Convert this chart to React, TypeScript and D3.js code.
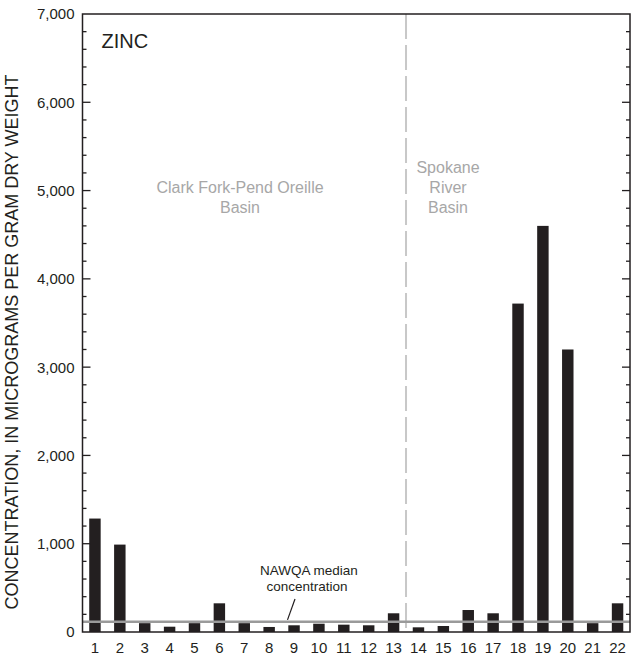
import React, { useEffect, useRef } from 'react';
import * as d3 from 'd3';

// Site numbers along the x axis
const sites: string[] = Array.from({ length: 22 }, (_, i) => String(i + 1));

// Zinc concentration, micrograms per gram dry weight
const zincValues: number[] = [
  1285, 990, 100, 60, 100, 325, 100, 57, 76, 94, 83,
  76, 212, 53, 68, 249, 212, 3720, 4600, 3200, 100, 325,
];

const yTicksMajor: number[] = [0, 1000, 2000, 3000, 4000, 5000, 6000, 7000];
const nawqaMedian = 115;

const basinLabels = [
  { lines: ['Clark Fork-Pend Oreille', 'Basin'], first: 0, last: 12 },
  { lines: ['Spokane', 'River', 'Basin'], first: 13, last: 21 },
];

const W = 637;
const H = 659;
const margin = { top: 14, right: 7, bottom: 27, left: 82.5 };
const FONT = '"Liberation Sans", Arial, Helvetica, sans-serif';
const INK = '#231f20';

const ZincChart: React.FC = () => {
  const svgRef = useRef<SVGSVGElement>(null);

  useEffect(() => {
    if (!svgRef.current) return;
    const svg = d3.select(svgRef.current);
    svg.selectAll('*').remove();

    const x0 = margin.left;
    const x1 = W - margin.right;
    const y0 = H - margin.bottom;
    const y1 = margin.top;

    const x = d3.scaleBand<string>().domain(sites).range([x0, x1]).padding(0);
    const y = d3.scaleLinear().domain([0, 7000]).range([y0, y1]);
    const barW = x.bandwidth() * 0.46;

    const g = svg.append('g').attr('font-family', FONT);

    // bars
    g.selectAll('rect.bar')
      .data(zincValues)
      .enter()
      .append('rect')
      .attr('class', 'bar')
      .attr('x', (_, i) => (x(sites[i]) as number) + x.bandwidth() / 2 - barW / 2)
      .attr('y', d => y(d))
      .attr('width', barW)
      .attr('height', d => y0 - y(d))
      .attr('fill', INK);

    // basin divider
    const divX = x(sites[13]) as number;
    g.append('line')
      .attr('x1', divX).attr('x2', divX)
      .attr('y1', y1).attr('y2', y0)
      .attr('stroke', '#c8c8c8')
      .attr('stroke-width', 2)
      .attr('stroke-dasharray', '25,6');

    // NAWQA median line
    g.append('line')
      .attr('x1', x0).attr('x2', x1)
      .attr('y1', y(nawqaMedian)).attr('y2', y(nawqaMedian))
      .attr('stroke', '#9a9a9a')
      .attr('stroke-width', 2.5);

    // frame
    g.append('rect')
      .attr('x', x0).attr('y', y1)
      .attr('width', x1 - x0).attr('height', y0 - y1)
      .attr('fill', 'none')
      .attr('stroke', INK)
      .attr('stroke-width', 1.5);

    // y axis ticks, inward on both sides
    const minor = d3.range(0, 7001, 200).filter(v => v % 1000 !== 0);
    const drawTicks = (vals: number[], len: number) => {
      vals.forEach(v => {
        g.append('line')
          .attr('x1', x0).attr('x2', x0 + len)
          .attr('y1', y(v)).attr('y2', y(v))
          .attr('stroke', INK).attr('stroke-width', 1.3);
        g.append('line')
          .attr('x1', x1).attr('x2', x1 - len)
          .attr('y1', y(v)).attr('y2', y(v))
          .attr('stroke', INK).attr('stroke-width', 1.3);
      });
    };
    drawTicks(yTicksMajor.filter(v => v > 0 && v < 7000), 8);
    drawTicks(minor, 4);

    const fmt = d3.format(',');
    g.selectAll('text.ytick')
      .data(yTicksMajor)
      .enter()
      .append('text')
      .attr('class', 'ytick')
      .attr('x', x0 - 8)
      .attr('y', d => y(d))
      .attr('dy', '0.36em')
      .attr('text-anchor', 'end')
      .attr('font-size', 15)
      .attr('fill', INK)
      .text(d => fmt(d));

    g.selectAll('text.xtick')
      .data(sites)
      .enter()
      .append('text')
      .attr('class', 'xtick')
      .attr('x', d => (x(d) as number) + x.bandwidth() / 2)
      .attr('y', y0 + 21)
      .attr('text-anchor', 'middle')
      .attr('font-size', 15)
      .attr('fill', INK)
      .text(d => d);

    // axis title
    g.append('text')
      .attr('transform', `translate(18,342) rotate(-90)`)
      .attr('text-anchor', 'middle')
      .attr('font-size', 18)
      .attr('fill', INK)
      .text('CONCENTRATION, IN MICROGRAMS PER GRAM DRY WEIGHT');

    // element label
    g.append('text')
      .attr('x', x0 + 19)
      .attr('y', 48)
      .attr('font-size', 20)
      .attr('fill', INK)
      .text('ZINC');

    // basin labels
    basinLabels.forEach(b => {
      const cx = b.first === 0
        ? 240
        : ((x(sites[b.first]) as number) + (x(sites[b.last]) as number) + x.bandwidth()) / 2 - 70;
      const startY = 213 - (b.lines.length - 1) * 20;
      b.lines.forEach((ln, i) => {
        g.append('text')
          .attr('x', cx)
          .attr('y', startY + i * 20)
          .attr('text-anchor', 'middle')
          .attr('font-size', 16)
          .attr('fill', '#a7a7a7')
          .text(ln);
      });
    });

    // NAWQA annotation
    const ax = 309;
    g.append('text')
      .attr('x', ax).attr('y', 575)
      .attr('text-anchor', 'middle')
      .attr('font-size', 13.5)
      .attr('fill', INK)
      .text('NAWQA median');
    g.append('text')
      .attr('x', ax - 2).attr('y', 591)
      .attr('text-anchor', 'middle')
      .attr('font-size', 13.5)
      .attr('fill', INK)
      .text('concentration');
    g.append('line')
      .attr('x1', 295).attr('y1', 599)
      .attr('x2', 287.5).attr('y2', y(nawqaMedian) - 2)
      .attr('stroke', INK)
      .attr('stroke-width', 1.2);
  }, []);

  return (
    <svg
      ref={svgRef}
      width={W}
      height={H}
      style={{ position: 'absolute', left: 0, top: 0, background: '#fff' }}
    />
  );
};

export default function App() {
  return <ZincChart />;
}
